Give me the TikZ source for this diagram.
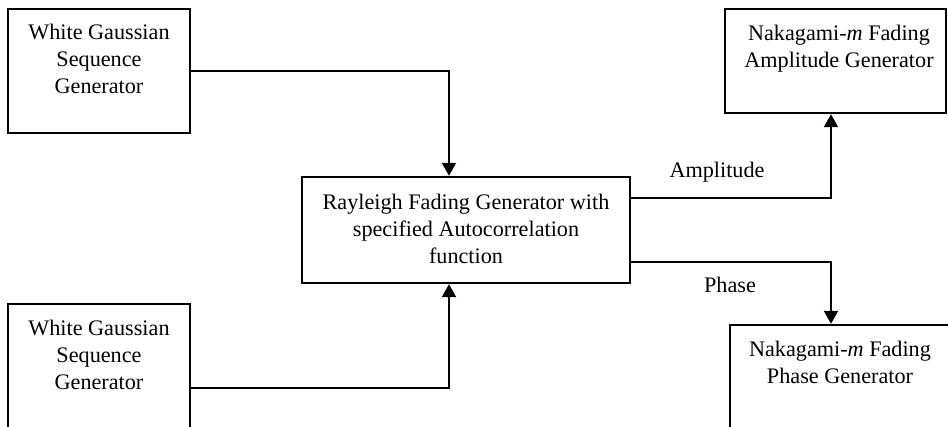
\documentclass[tikz,border=0pt]{standalone}
\usepackage{fontspec}
\setmainfont{Liberation Serif}
\usetikzlibrary{arrows.meta}
\begin{document}
\begin{tikzpicture}[x=1pt,y=1pt,
  blk/.style={draw, line width=2.4pt, inner sep=0pt},
  txt/.style={align=center, inner sep=0pt, font=\fontsize{22.2}{26.8}\selectfont},
  conn/.style={line width=2.2pt, -{Triangle[width=14pt,length=13pt]}}]
  \clip (0,0) rectangle (948,427);
  % blocks
  \node[blk, minimum width=182pt, minimum height=124pt] (wg1) at (99,356) {};
  \node[blk, minimum width=182pt, minimum height=143pt] (wg2) at (99,51.5) {};
  \node[blk, minimum width=328pt, minimum height=106pt] (rf) at (466,197) {};
  \node[blk, minimum width=221pt, minimum height=104pt] (na) at (835.5,366) {};
  \node[blk, minimum width=240pt, minimum height=122pt] (np) at (850,41) {};
  % block texts
  \node[txt] (t1) at (99,368) {White Gaussian\\Sequence\\Generator};
  \node[txt] (t2) at (99,72) {White Gaussian\\Sequence\\Generator};
  \node[txt] (t3) at (466,198) {Rayleigh Fading Generator with\\specified Autocorrelation\\function};
  \node[txt] (t4) at (839,378.5) {Nakagami-\textit{m} Fading\\Amplitude Generator};
  \node[txt] (t5) at (840,64.5) {Nakagami-\textit{m} Fading\\Phase Generator};
  % signal labels
  \node[txt] (la) at (717,255) {Amplitude};
  \node[txt] (lp) at (730,142) {Phase};
  % connectors
  \draw[conn] (wg1.east) -| ([xshift=-17pt]rf.north);
  \draw[conn] ([yshift=-12.5pt]wg2.east) -| ([xshift=-17pt]rf.south);
  \draw[conn] ([yshift=32pt]rf.east) -| ([xshift=-4.5pt]na.south);
  \draw[conn] ([yshift=-32pt]rf.east) -| ([xshift=-19pt]np.north);
\end{tikzpicture}
\end{document}
